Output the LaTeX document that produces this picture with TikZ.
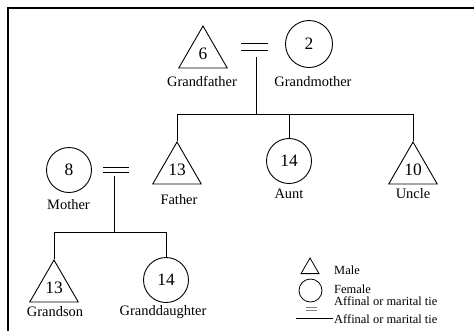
\documentclass[tikz,border=0pt]{standalone}
\usepackage{fontspec}
\setmainfont{Liberation Serif}
\usetikzlibrary{shapes.geometric}
\newcommand\numfnt{\fontsize{17.5}{20}\selectfont}
\newcommand\lblfnt{\fontsize{14.5}{16}\selectfont}
\newcommand\legfnt{\fontsize{12.5}{14}\selectfont}
\begin{document}
\begin{tikzpicture}[x=1bp,y=-1bp,
  tie/.style={line width=0.9bp, black},
  male/.style={draw, line width=0.9bp, regular polygon, regular polygon sides=3, minimum size=56bp, inner sep=0pt, font=\numfnt},
  female/.style={draw, line width=0.9bp, circle, minimum size=45bp, inner sep=0pt, font=\numfnt},
  lbl/.style={anchor=base, inner sep=0pt, font=\lblfnt},
  leg/.style={anchor=base west, inner sep=0pt, font=\legfnt},
]
\useasboundingbox (0,0) rectangle (474,331);
% frame
\draw[line width=1.3bp] (8,331) -- (8,8) -- (474,8);

% generation 1
\node[male] (gf) at (203,54) {6};
\node[female, minimum size=47bp] (gm) at (309,44) {2};
\node[lbl] (gfl) at (202,86) {Grandfather};
\node[lbl] (gml) at (313,86) {Grandmother};
\coordinate (e1a) at (241,43.5); \coordinate (e1b) at (268,43.5);
\coordinate (e1c) at (241,50.5); \coordinate (e1d) at (268,50.5);
\draw[tie] (e1a) -- (e1b);
\draw[tie] (e1c) -- (e1d);
\coordinate (d1) at (256,57);
\coordinate (bar1) at (256,114);

% generation 2
\node[male] (fa) at (177,170) {13};
\node[female] (au) at (289,161) {14};
\node[male] (un) at (413,170) {10};
\node[lbl] (fal) at (179,204) {Father};
\node[lbl] (aul) at (289,198) {Aunt};
\node[lbl] (unl) at (413,198) {Uncle};
\draw[tie] (d1) -- (bar1);
\draw[tie] (fa.north) -- (fa.north |- bar1) -- (un.north |- bar1) -- (un.north);
\draw[tie] (au.north) -- (au.north |- bar1);

\node[female] (mo) at (69,170) {8};
\node[lbl] (mol) at (68.5,209) {Mother};
\coordinate (e2a) at (103,167); \coordinate (e2b) at (129,167);
\coordinate (e2c) at (103,172.5); \coordinate (e2d) at (129,172.5);
\draw[tie] (e2a) -- (e2b);
\draw[tie] (e2c) -- (e2d);
\coordinate (d2) at (114,176);
\coordinate (bar2) at (114,232);

% generation 3
\node[male] (gs) at (54,288) {13};
\node[female] (gd) at (166,280) {14};
\node[lbl] (gsl) at (55,316) {Grandson};
\node[lbl] (gdl) at (163,315) {Granddaughter};
\draw[tie] (d2) -- (bar2);
\draw[tie] (gs.north) -- (gs.north |- bar2) -- (gd.north |- bar2) -- (gd.north);

% legend
\node[male, minimum size=20.8bp, line width=0.8bp] (lm) at (310,268.4) {};
\node[female, minimum size=23bp, line width=0.8bp] (lf) at (310.5,290.5) {};
\coordinate (le1) at (306,307.6); \coordinate (le2) at (317,307.6);
\coordinate (le3) at (306,310.4); \coordinate (le4) at (317,310.4);
\draw[line width=0.6bp, gray] (le1) -- (le2);
\draw[line width=0.6bp, gray] (le3) -- (le4);
\coordinate (ll1) at (296,318.3); \coordinate (ll2) at (333,318.3);
\draw[line width=0.8bp] (ll1) -- (ll2);
\node[leg] (tm) at (334,274) {Male};
\node[leg] (tf) at (334,293.3) {Female};
\node[leg] (ta) at (334,305.5) {Affinal or marital tie};
\node[leg] (tb) at (334,323) {Affinal or marital tie};
\end{tikzpicture}
\end{document}
